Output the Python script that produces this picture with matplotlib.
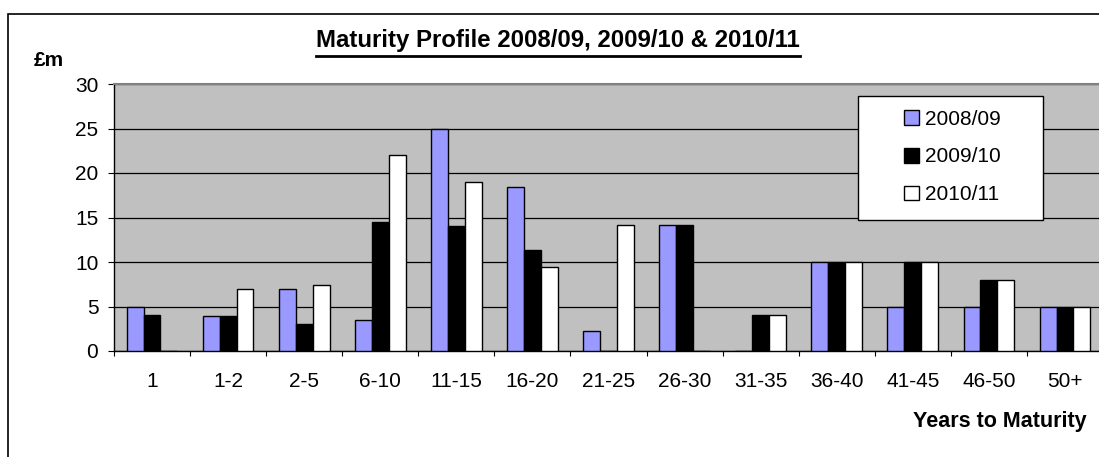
import numpy as np
import matplotlib.pyplot as plt
from matplotlib.lines import Line2D
from matplotlib.patches import Rectangle

plt.rcParams['font.family'] = ['Liberation Sans', 'DejaVu Sans']

# data
categories = ['1', '1-2', '2-5', '6-10', '11-15', '16-20', '21-25',
              '26-30', '31-35', '36-40', '41-45', '46-50', '50+']
fy2008 = [5, 3.9, 7, 3.5, 25, 18.4, 2.3, 14.2, 0, 10, 5, 5, 5]
fy2009 = [4, 3.9, 3, 14.5, 14.1, 11.4, 0, 14.2, 4, 10, 10, 8, 5]
fy2010 = [0, 7, 7.4, 22, 19, 9.4, 14.2, 0, 4, 10, 10, 8, 5]
series_names = ['2008/09', '2009/10', '2010/11']
colors = ['#9999FF', '#000000', '#FFFFFF']

W, H = 1099, 457
fig = plt.figure(figsize=(W / 100, H / 100), dpi=100)

# outer chart border
fig.add_artist(Rectangle((8 / W, -0.01), 1.0, 1 - 14 / H + 0.01,
                         transform=fig.transFigure, fill=False,
                         edgecolor='black', linewidth=1.2))

ax = fig.add_axes([114 / W, 1 - 351 / H, (1103 - 114) / W, (351 - 84) / H])
ax.set_facecolor('#C0C0C0')

x = np.arange(len(categories)) + 0.5
w = 1 / 4.5
handles = []
for i, (vals, c) in enumerate(zip([fy2008, fy2009, fy2010], colors)):
    b = ax.bar(x + (i - 1) * w, vals, w, color=c, edgecolor='black',
               linewidth=1.0, label=series_names[i], zorder=3)
    handles.append(b)

ax.set_xlim(0, len(categories))
ax.set_ylim(0, 30)
ax.set_yticks(range(0, 31, 5))
ax.yaxis.grid(True, color='#000000', linewidth=0.9, zorder=1)
ax.set_xticks(range(len(categories) + 1))
ax.set_xticklabels([])
ax.set_xticks(x, minor=True)
ax.set_xticklabels(categories, minor=True)
ax.tick_params(axis='x', which='major', length=3.6, direction='out', color='black')
ax.tick_params(axis='x', which='minor', length=0, labelsize=15, pad=15)
ax.tick_params(axis='y', length=4.3, direction='out', labelsize=15, pad=7)

for s in ['top', 'right']:
    ax.spines[s].set_color('#808080')
    ax.spines[s].set_linewidth(1.5)
for s in ['left', 'bottom']:
    ax.spines[s].set_color('black')
    ax.spines[s].set_linewidth(1.0)

# legend box (Excel style, wider than its content)
fig.add_artist(Rectangle((858 / W, 1 - 220 / H), (1043 - 858) / W, (220 - 96) / H,
                         transform=fig.transFigure, facecolor='white',
                         edgecolor='black', linewidth=1.0, zorder=4))
leg = fig.legend(handles=handles, labels=series_names, loc='center',
                 bbox_to_anchor=(952 / W, 1 - 157 / H),
                 fontsize=15, frameon=False, labelspacing=0.9,
                 handlelength=0.72, handleheight=0.72, handletextpad=0.3)
leg.set_zorder(5)

title = fig.text(558 / W, 1 - 41 / H, 'Maturity Profile 2008/09, 2009/10 & 2010/11',
                 ha='center', va='center', fontsize=17.3, fontweight='bold')
fig.text(34 / W, 1 - 61 / H, '£m', ha='left', va='center', fontsize=15,
         fontweight='bold')
fig.text(1087 / W, 1 - 421 / H, 'Years to Maturity', ha='right', va='center',
         fontsize=15.5, fontweight='bold')

# underline the title
fig.canvas.draw()
bb = title.get_window_extent().transformed(fig.transFigure.inverted())
fig.add_artist(Line2D([bb.x0, bb.x1], [1 - 56 / H] * 2,
                      transform=fig.transFigure, color='black', linewidth=2.0))

fig.savefig('out.png', dpi=100)
